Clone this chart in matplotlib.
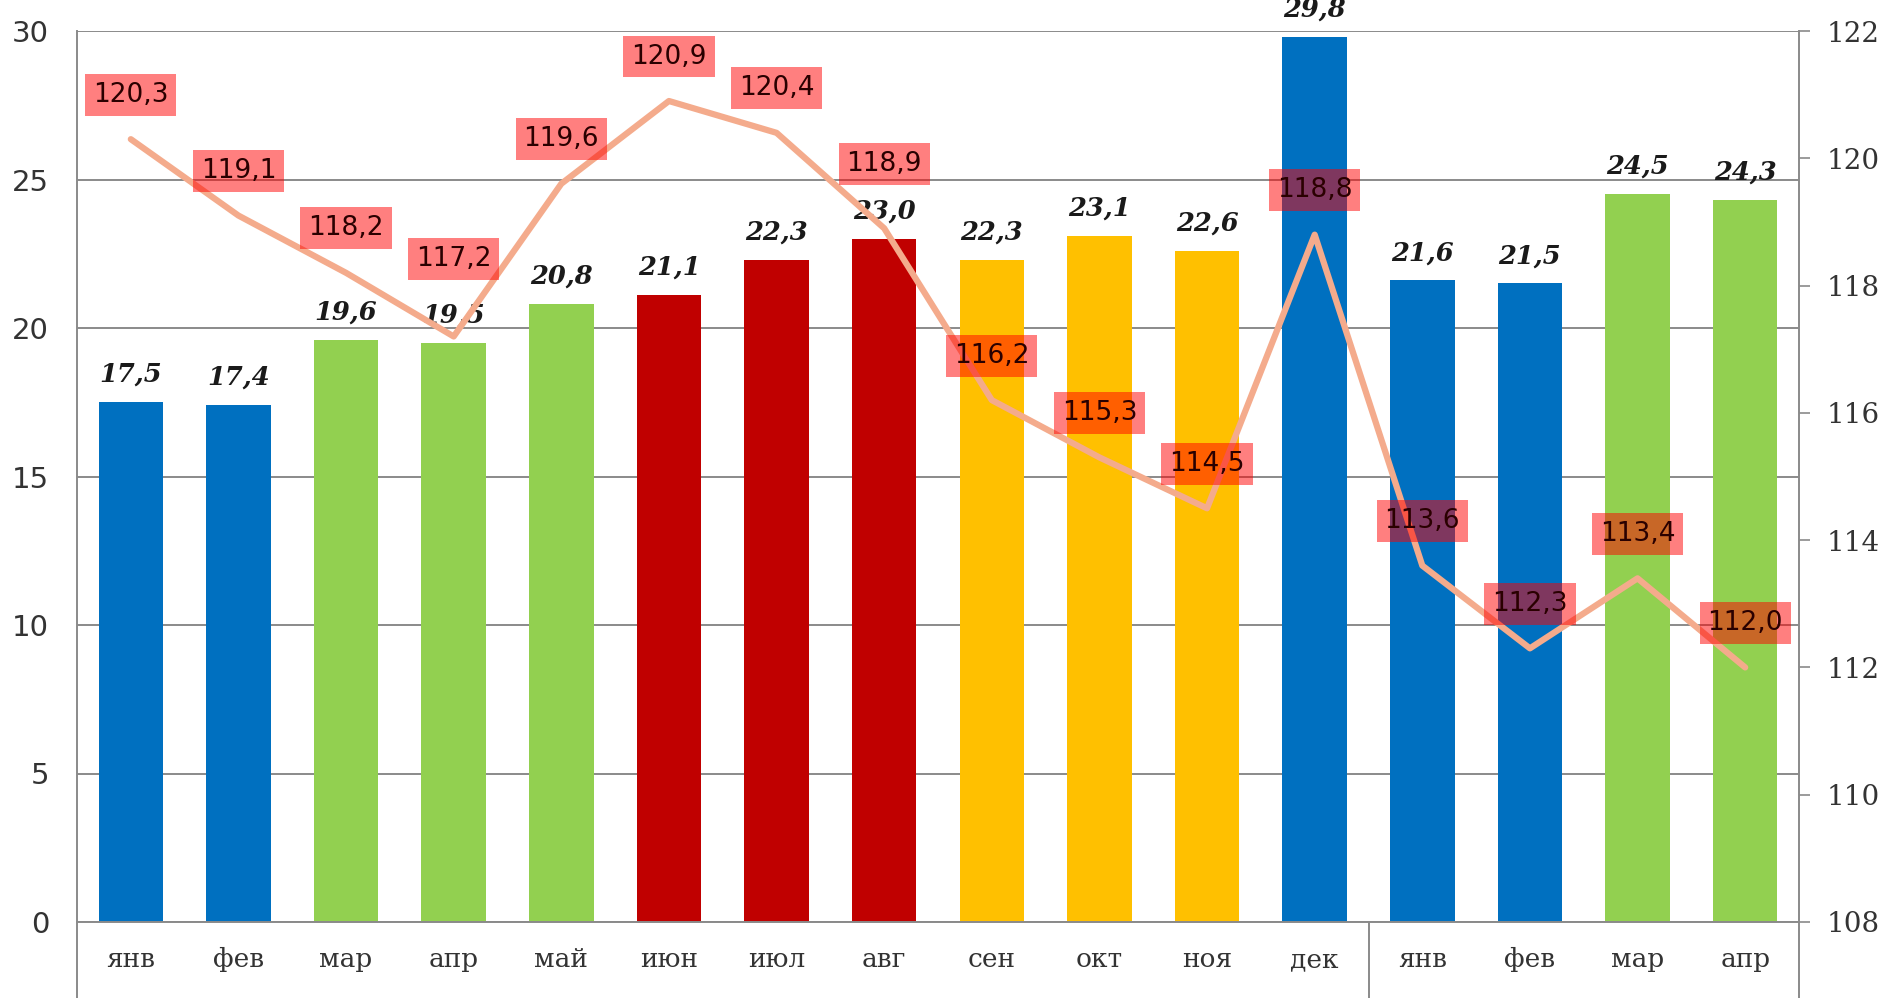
import matplotlib
matplotlib.use('Agg')
import matplotlib.pyplot as plt
import matplotlib.transforms as mtransforms

# --- data ---
months = ['янв', 'фев', 'мар', 'апр', 'май', 'июн', 'июл', 'авг',
          'сен', 'окт', 'ноя', 'дек', 'янв', 'фев', 'мар', 'апр']
bar_values = [17.5, 17.4, 19.6, 19.5, 20.8, 21.1, 22.3, 23.0,
              22.3, 23.1, 22.6, 29.8, 21.6, 21.5, 24.5, 24.3]
line_values = [120.3, 119.1, 118.2, 117.2, 119.6, 120.9, 120.4, 118.9,
               116.2, 115.3, 114.5, 118.8, 113.6, 112.3, 113.4, 112.0]
seasons = ['winter', 'winter', 'spring', 'spring', 'spring', 'summer', 'summer', 'summer',
           'autumn', 'autumn', 'autumn', 'winter', 'winter', 'winter', 'spring', 'spring']

season_colors = {'winter': '#0070C0', 'spring': '#92D050',
                 'summer': '#C00000', 'autumn': '#FFC000'}

# сдвиг подписей линии вверх (в пунктах), пара подписей сдвинута вручную
label_dy = [32] * len(line_values)
label_dy[3] = 56
label_dy[7] = 46

fig = plt.figure(figsize=(18.87, 9.98), dpi=100)
ax = fig.add_axes([77 / 1887, 1 - 922 / 998, (1799 - 77) / 1887, (922 - 31) / 998])
ax2 = ax.twinx()

x = list(range(len(months)))
colors = [season_colors[s] for s in seasons]
ax.bar(x, bar_values, width=0.6, color=colors, zorder=2)

for xi, v in zip(x, bar_values):
    ax.annotate(f"{v:.1f}".replace('.', ','), (xi, v), xytext=(0, 11),
                textcoords='offset points', ha='center', va='bottom',
                fontsize=18.5, fontweight='bold', fontstyle='italic',
                family='DejaVu Serif', color='#1a1a1a', annotation_clip=False)

ax.set_xlim(-0.5, len(months) - 0.5)
ax.set_ylim(0, 30)
ax.set_yticks(range(0, 31, 5))
ax.yaxis.grid(True, color='#8a8a8a', linewidth=1.4, zorder=0)
ax.set_axisbelow(True)
ax.tick_params(axis='y', length=0, pad=20, labelsize=21, labelcolor='#333333')
ax.set_xticks(x)
ax.set_xticklabels(months, family='DejaVu Serif', fontsize=19, color='#333333')
ax.tick_params(axis='x', length=0, pad=18)

for side in ['left', 'bottom', 'right']:
    ax.spines[side].set_color('#8a8a8a')
    ax.spines[side].set_linewidth(1.4)
ax.spines['top'].set_visible(False)

ax2.plot(x, line_values, color='#F4AB8C', linewidth=4.5, solid_capstyle='round', zorder=3)
ax2.set_ylim(108, 122)
ax2.set_yticks(range(108, 123, 2))
ax2.tick_params(axis='y', length=8, width=1.2, color='#8a8a8a', pad=12,
                labelsize=20, labelcolor='#333333')
for t in ax2.get_yticklabels():
    t.set_family('DejaVu Serif')
for side in ['left', 'bottom', 'right', 'top']:
    ax2.spines[side].set_visible(False)

for xi, v, dy in zip(x, line_values, label_dy):
    ax2.annotate(f"{v:.1f}".replace('.', ','), (xi, v), xytext=(0, dy),
                 textcoords='offset points', ha='center', va='center',
                 fontsize=19, color='#2a0000', zorder=5,
                 bbox=dict(boxstyle='square,pad=0.3', facecolor='red',
                           edgecolor='none', alpha=0.5))

# вертикальные линии под осью X (многоуровневая ось категорий)
trans = mtransforms.blended_transform_factory(ax.transData, ax.transAxes)
for xv in [-0.5, 11.5, len(months) - 0.5]:
    ax.plot([xv, xv], [0, -0.09], transform=trans, color='#8a8a8a',
            linewidth=1.4, clip_on=False)

fig.savefig('out.png', dpi=100)
